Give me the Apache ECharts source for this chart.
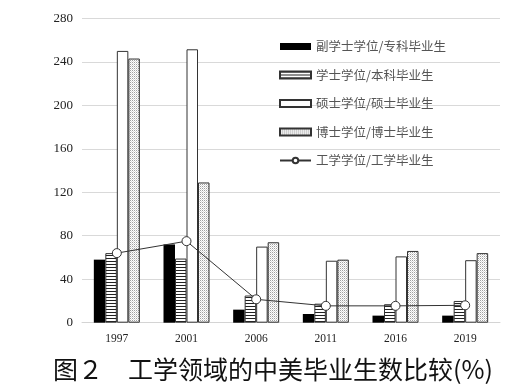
<!DOCTYPE html>
<html>
<head>
<meta charset="utf-8">
<script src="https://cdn.jsdelivr.net/npm/echarts@6/dist/echarts.min.js"></script>
<style>
html,body{margin:0;padding:0;background:#fff;}
#chart{width:531px;height:391px;}
</style>
</head>
<body>
<div id="chart"></div>
<script>
var categories = ['1997', '2001', '2006', '2011', '2016', '2019'];
var seriesNames = ['副学士学位/专科毕业生', '学士学位/本科毕业生', '硕士学位/硕士毕业生', '博士学位/博士毕业生', '工学学位/工学毕业生'];
var associateData = [58, 72, 12, 8, 6.5, 6.5];
var bachelorData = [64, 59, 25, 17.5, 17, 20];
var masterData = [250, 251.5, 70, 57, 61, 57.5];
var doctorData = [243, 129, 74, 58, 66, 64];
var engineeringData = [64, 75, 21.5, 15.5, 15.5, 16];
var yTicks = [0, 40, 80, 120, 160, 200, 240, 280];
var caption = '图２　工学领域的中美毕业生数比较(%)';

function makePattern(w, h, draw) {
  var c = document.createElement('canvas');
  c.width = w; c.height = h;
  var ctx = c.getContext('2d');
  ctx.fillStyle = '#fff';
  ctx.fillRect(0, 0, w, h);
  draw(ctx);
  return c;
}
var stripeCanvas = makePattern(4, 3, function (ctx) {
  ctx.fillStyle = '#222';
  ctx.fillRect(0, 0, 4, 1);
});
var dotCanvas = makePattern(2, 2, function (ctx) {
  ctx.fillStyle = '#a0a0a0';
  ctx.fillRect(0, 0, 1, 1);
  ctx.fillStyle = '#d8d8d8';
  ctx.fillRect(1, 1, 1, 1);
});

var chart = echarts.init(document.getElementById('chart'), null, {renderer: 'canvas'});
var barBase = {
  type: 'bar',
  barWidth: 11.5,
  barGap: '0%',
  animation: false
};
var option = {
  animation: false,
  backgroundColor: '#fff',
  grid: {left: 82, right: 31, top: 18.3, bottom: 68.3},
  legend: {
    orient: 'vertical',
    left: 279,
    top: 39.5,
    padding: 0,
    itemWidth: 31,
    itemHeight: 7,
    itemGap: 14.5,
    textStyle: {fontFamily: 'Noto Sans CJK SC', fontSize: 12.5, color: '#555', lineHeight: 14},
    data: [
      {name: seriesNames[0], icon: 'rect'},
      {name: seriesNames[1], icon: 'rect'},
      {name: seriesNames[2], icon: 'rect'},
      {name: seriesNames[3], icon: 'rect'},
      {name: seriesNames[4]}
    ]
  },
  title: {
    text: caption,
    left: 53,
    top: 357,
    padding: 0,
    textStyle: {fontFamily: 'Noto Sans CJK SC', fontSize: 25, fontWeight: 'normal', color: '#111'}
  },
  xAxis: {
    type: 'category',
    data: categories,
    axisLine: {lineStyle: {color: '#d4d4d4', width: 1}},
    axisTick: {show: false},
    axisLabel: {fontFamily: 'Liberation Serif', fontSize: 11.5, color: '#222', margin: 10}
  },
  yAxis: {
    type: 'value',
    min: yTicks[0],
    max: yTicks[yTicks.length - 1],
    interval: 40,
    axisLine: {show: false},
    axisTick: {show: false},
    splitLine: {lineStyle: {color: '#d9d9d9', width: 1}},
    axisLabel: {fontFamily: 'Liberation Serif', fontSize: 13, color: '#222', margin: 9}
  },
  series: [
    Object.assign({}, barBase, {
      name: seriesNames[0], data: associateData,
      itemStyle: {color: '#000', borderColor: '#000', borderWidth: 0}
    }),
    Object.assign({}, barBase, {
      name: seriesNames[1], data: bachelorData,
      itemStyle: {color: {image: stripeCanvas, repeat: 'repeat'}, borderColor: '#333', borderWidth: 1}
    }),
    Object.assign({}, barBase, {
      name: seriesNames[2], data: masterData,
      itemStyle: {color: '#fff', borderColor: '#333', borderWidth: 1}
    }),
    Object.assign({}, barBase, {
      name: seriesNames[3], data: doctorData,
      itemStyle: {color: {image: dotCanvas, repeat: 'repeat'}, borderColor: '#333', borderWidth: 1}
    }),
    {
      type: 'line',
      name: seriesNames[4],
      data: engineeringData,
      symbol: 'circle',
      symbolSize: 9,
      lineStyle: {color: '#333', width: 1},
      itemStyle: {color: '#fff', borderColor: '#333', borderWidth: 1},
      z: 5,
      animation: false
    }
  ]
};
chart.setOption(option);
</script>
</body>
</html>
